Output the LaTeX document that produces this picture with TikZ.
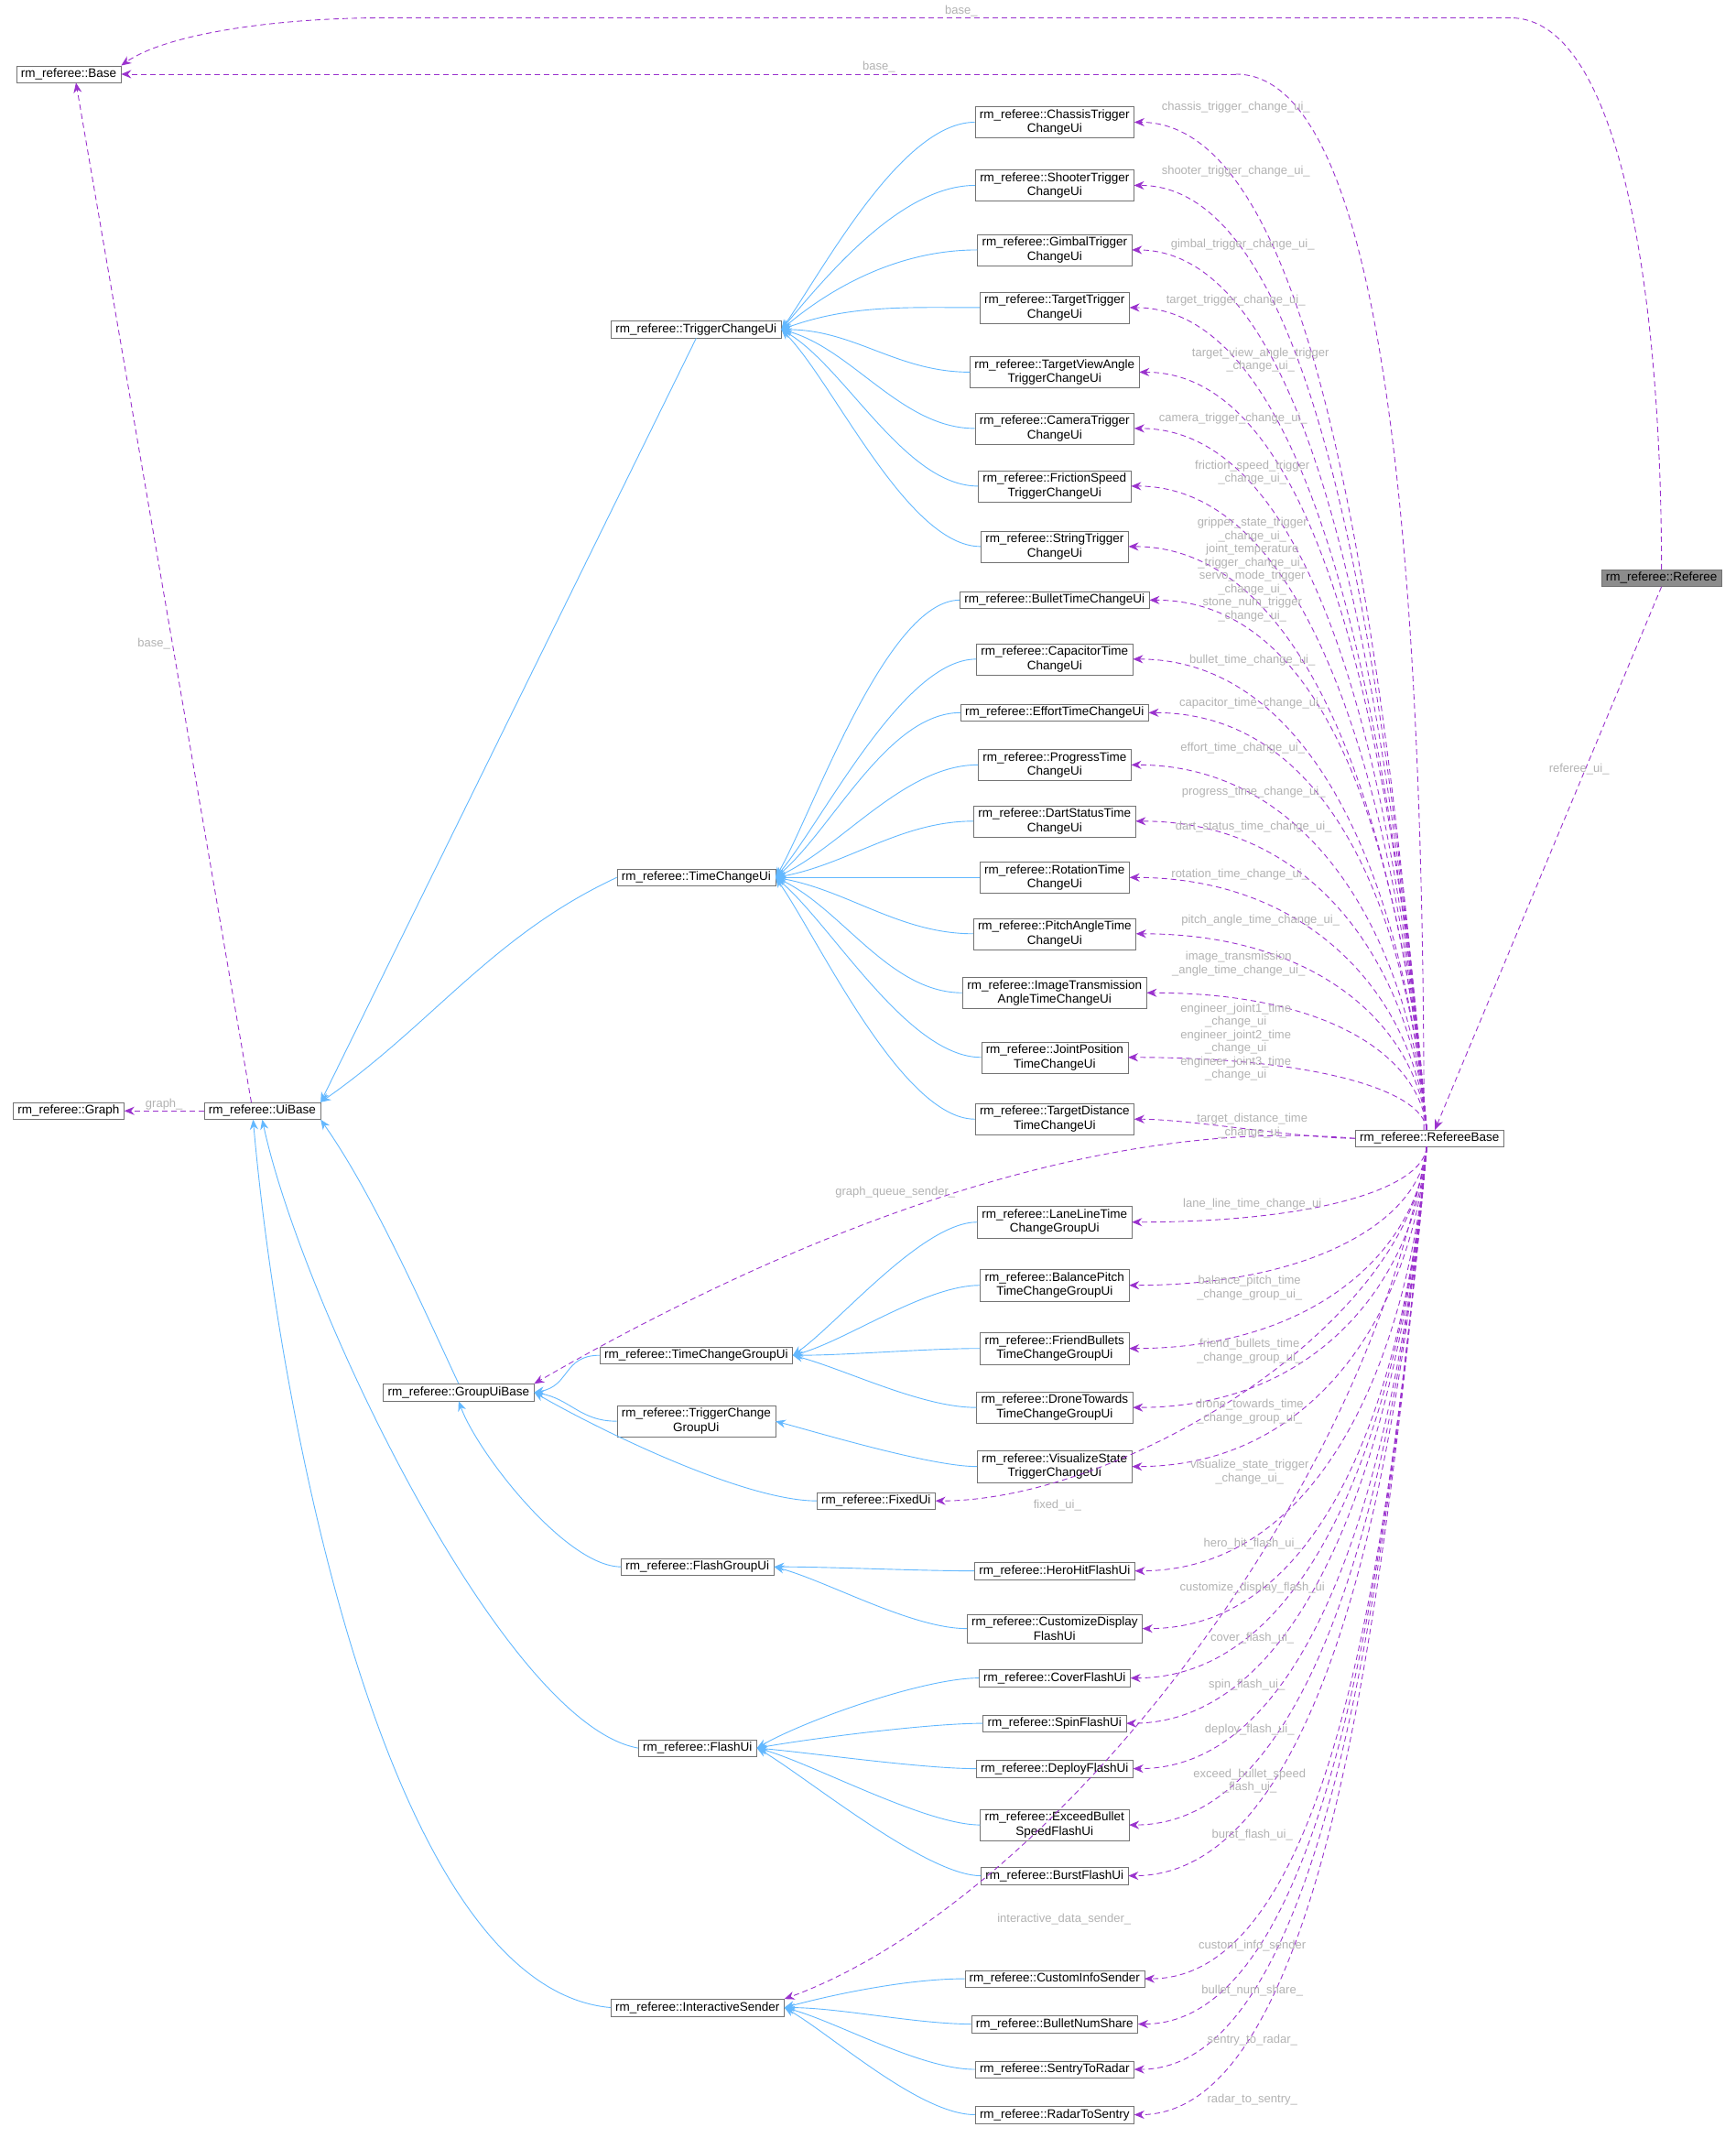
\documentclass[tikz,border=0pt]{standalone}
\usepackage{fontspec}
\setmainfont{Liberation Sans}
\usetikzlibrary{arrows.meta,positioning}
\definecolor{inhblue}{HTML}{63B8FF}
\definecolor{mempurple}{HTML}{9A32CD}
\tikzset{
    every picture/.style = {x = 1.5pt, y = -1.5pt},
    cls/.style = {
        draw = black!55,
        fill = white,
        inner xsep = 5pt,
        inner ysep = 3pt,
        align = center,
        font = \fontsize{13.5}{15.5}\selectfont
    },
    inh/.style = {
        draw = inhblue,
        line width = 0.9pt,
        -{Stealth[length = 11pt, width = 9pt, fill = inhblue]}
    },
    mem/.style = {
        draw = mempurple,
        line width = 0.9pt,
        dash pattern = on 6pt off 4pt,
        -{Stealth[length = 11pt, width = 9pt, fill = mempurple]}
    },
    lbl/.style = {
        text = black!30,
        align = center,
        inner sep = 0pt,
        font = \fontsize{13}{14.5}\selectfont
    }
}
\begin{document}
\begin{tikzpicture}
    \useasboundingbox (0,0) rectangle (1264,1565);

    % left column
    \node[cls] (base) at (50,54) {rm\_referee::Base};
    \node[cls] (graph) at (50,809) {rm\_referee::Graph};
    \node[cls] (ui) at (191,809) {rm\_referee::UiBase};

    % middle column
    \node[cls] (tcu) at (507,240) {rm\_referee::TriggerChangeUi};
    \node[cls] (tmc) at (507,639) {rm\_referee::TimeChangeUi};
    \node[cls] (gub) at (334,1014) {rm\_referee::GroupUiBase};
    \node[cls] (tmg) at (507,987) {rm\_referee::TimeChangeGroupUi};
    \node[cls] (tcg) at (507,1035) {rm\_referee::TriggerChange\\GroupUi};
    \node[cls] (fix) at (638,1093) {rm\_referee::FixedUi};
    \node[cls] (fgu) at (508,1141) {rm\_referee::FlashGroupUi};
    \node[cls] (fui) at (508,1273) {rm\_referee::FlashUi};
    \node[cls] (isd) at (508,1462) {rm\_referee::InteractiveSender};

    % members
    \foreach \n/\y/\t in {
        chassis/89/ChassisTrigger\\ChangeUi,
        shooter/135/ShooterTrigger\\ChangeUi,
        gimbal/182/GimbalTrigger\\ChangeUi,
        target/224/TargetTrigger\\ChangeUi,
        view/271/TargetViewAngle\\TriggerChangeUi,
        camera/312/CameraTrigger\\ChangeUi,
        friction/354/FrictionSpeed\\TriggerChangeUi,
        string/398/StringTrigger\\ChangeUi,
        bullet/437/BulletTimeChangeUi,
        capacitor/480/CapacitorTime\\ChangeUi,
        effort/519/EffortTimeChangeUi,
        progress/557/ProgressTime\\ChangeUi,
        dart/598/DartStatusTime\\ChangeUi,
        rotation/639/RotationTime\\ChangeUi,
        pitch/680/PitchAngleTime\\ChangeUi,
        image/723/ImageTransmission\\AngleTimeChangeUi,
        joint/770/JointPosition\\TimeChangeUi,
        tdist/815/TargetDistance\\TimeChangeUi,
        lane/890/LaneLineTime\\ChangeGroupUi,
        balance/936/BalancePitch\\TimeChangeGroupUi,
        friend/982/FriendBullets\\TimeChangeGroupUi,
        drone/1025/DroneTowards\\TimeChangeGroupUi,
        visual/1068/VisualizeState\\TriggerChangeUi,
        hero/1144/HeroHitFlashUi,
        custom/1186/CustomizeDisplay\\FlashUi,
        cover/1222/CoverFlashUi,
        spin/1255/SpinFlashUi,
        deploy/1288/DeployFlashUi,
        exceed/1329/ExceedBullet\\SpeedFlashUi,
        burst/1366/BurstFlashUi,
        cinfo/1441/CustomInfoSender,
        bnum/1474/BulletNumShare,
        sentry/1507/SentryToRadar,
        radar/1540/RadarToSentry}
        \node[cls] (\n) at (768,\y) {rm\_referee::\t};

    % right side
    \node[cls] (rb) at (1041,829) {rm\_referee::RefereeBase};
    \node[cls, fill = black!45] (ref) at (1210,421) {rm\_referee::Referee};

    % inheritance
    \foreach \n/\a in {chassis/55, shooter/50, gimbal/40, target/20, view/0,
        camera/-15, friction/-30, string/-45}
        \draw[inh] (\n.west) .. controls +(180:80pt) and +(\a:80pt) .. (tcu.east);
    \foreach \n/\a in {bullet/60, capacitor/50, effort/40, progress/25, dart/10,
        rotation/0, pitch/-10, image/-25, joint/-40, tdist/-55}
        \draw[inh] (\n.west) .. controls +(180:80pt) and +(\a:80pt) .. (tmc.east);
    \foreach \n/\a in {lane/35, balance/15, friend/0, drone/-15}
        \draw[inh] (\n.west) .. controls +(180:60pt) and +(\a:60pt) .. (tmg.east);
    \draw[inh] (visual.west) .. controls +(180:50pt) and +(-15:50pt) .. (tcg.east);
    \draw[inh] (tmg.west) .. controls +(180:40pt) and +(10:40pt) .. (gub.east);
    \draw[inh] (tcg.west) .. controls +(180:40pt) and +(-10:40pt) .. (gub.east);
    \draw[inh] (fix.west) .. controls +(180:80pt) and +(-30:80pt) .. (gub.east);
    \draw[inh] (fgu.west) .. controls +(180:60pt) and +(-70:60pt) .. (gub.south);
    \foreach \n/\a in {hero/0, custom/-15}
        \draw[inh] (\n.west) .. controls +(180:60pt) and +(\a:60pt) .. (fgu.east);
    \foreach \n/\a in {cover/30, spin/10, deploy/-5, exceed/-15, burst/-30}
        \draw[inh] (\n.west) .. controls +(180:60pt) and +(\a:60pt) .. (fui.east);
    \foreach \n/\a in {cinfo/15, bnum/0, sentry/-15, radar/-30}
        \draw[inh] (\n.west) .. controls +(180:60pt) and +(\a:60pt) .. (isd.east);
    \draw[inh] (tcu.south) -- (ui.north east);
    \draw[inh] (tmc.west) .. controls +(205:150pt) and +(35:150pt) .. (ui.north east);
    \draw[inh] (gub.north) .. controls +(115:100pt) and +(-55:100pt) .. (ui.south east);
    \draw[inh] (fui.west) .. controls +(170:150pt) and +(-78:200pt) .. (ui.south);
    \draw[inh] (isd.west) .. controls +(175:250pt) and +(-85:300pt) .. ([xshift=-10pt]ui.south);

    % members of UiBase
    \draw[mem] (ui.west) -- node[lbl, above = 1pt] {graph\_} (graph.east);
    \draw[mem] ([xshift=-12pt]ui.north) -- node[lbl, pos=0.45, left = 2pt] {base\_} ([xshift=8pt]base.south);

    % members of RefereeBase above it
    \foreach \n/\y in {chassis/89, shooter/135, gimbal/182, target/224, view/271,
        camera/312, friction/354, string/398, bullet/437, capacitor/480, effort/519,
        progress/557, dart/598, rotation/639, pitch/680, image/723, joint/770}{
        \pgfmathsetmacro\lena{(829-\y)*0.75}
        \draw[mem] ([xshift=-3pt]rb.north) .. controls +(95:\lena pt) and +(0:200pt) .. (\n.east);
    }
    \draw[mem] (rb.west) .. controls +(180:60pt) and +(0:60pt) .. (tdist.east);
    \draw[mem] (rb.west) .. controls +(175:300pt) and +(30:300pt) .. (gub.north east);
    % members of RefereeBase below it
    \foreach \n/\y in {lane/890, balance/936, friend/982, drone/1025, visual/1068,
        fix/1093, hero/1144, custom/1186, cover/1222, spin/1255, deploy/1288,
        exceed/1329, burst/1366, cinfo/1441, bnum/1474, sentry/1507, radar/1540}{
        \pgfmathsetmacro\lena{(\y-829)*0.75}
        \draw[mem] ([xshift=-3pt]rb.south) .. controls +(-95:\lena pt) and +(0:200pt) .. (\n.east);
    }
    \draw[mem] ([xshift=-3pt]rb.south) .. controls +(-100:400pt) and +(20:300pt) .. (isd.north east);

    % top connectors
    \coordinate (basebend) at (900,54);
    \coordinate (topbend) at (1100,13);
    \coordinate (topleft) at (280,13);
    \draw[mem, -] ([xshift=-6pt]rb.north) .. controls +(90:700pt) and +(0:150pt) .. (basebend);
    \draw[mem] (basebend) -- (base.east);
    \draw[mem, -] (ref.north) .. controls +(90:300pt) and +(0:120pt) .. (topbend);
    \draw[mem, -] (topbend) -- (topleft);
    \draw[mem] (topleft) .. controls +(180:120pt) and +(35:60pt) .. (base.north east);
    \draw[mem] (ref.south) -- ([xshift=6pt]rb.north);

    % labels
    \node[lbl] at (700,8) {base\_};
    \node[lbl] at (640,49) {base\_};
    \node[lbl] at (1150,560) {referee\_ui\_};
    \node[lbl] at (652,868) {graph\_queue\_sender\_};
    \node[lbl] at (775,1398) {interactive\_data\_sender\_};
    \foreach \x/\y/\t in {
        900/78/chassis\_trigger\_change\_ui\_,
        900/125/shooter\_trigger\_change\_ui\_,
        905/178/gimbal\_trigger\_change\_ui\_,
        900/219/target\_trigger\_change\_ui\_,
        918/262/target\_view\_angle\_trigger\\\_change\_ui\_,
        898/305/camera\_trigger\_change\_ui\_,
        912/344/friction\_speed\_trigger\\\_change\_ui\_,
        912/415/gripper\_state\_trigger\\\_change\_ui\_\\joint\_temperature\\\_trigger\_change\_ui\_\\servo\_mode\_trigger\\\_change\_ui\_\\stone\_num\_trigger\\\_change\_ui\_,
        912/481/bullet\_time\_change\_ui\_,
        912/512/capacitor\_time\_change\_ui\_,
        905/545/effort\_time\_change\_ui\_,
        913/577/progress\_time\_change\_ui\_,
        913/602/dart\_status\_time\_change\_ui\_,
        903/637/rotation\_time\_change\_ui\_,
        918/670/pitch\_angle\_time\_change\_ui\_,
        902/702/image\_transmission\\\_angle\_time\_change\_ui\_,
        900/759/engineer\_joint1\_time\\\_change\_ui\\engineer\_joint2\_time\\\_change\_ui\\engineer\_joint3\_time\\\_change\_ui,
        912/820/target\_distance\_time\\\_change\_ui\_,
        912/877/lane\_line\_time\_change\_ui,
        910/938/balance\_pitch\_time\\\_change\_group\_ui\_,
        910/984/friend\_bullets\_time\\\_change\_group\_ui\_,
        910/1028/drone\_towards\_time\\\_change\_group\_ui\_,
        910/1072/visualize\_state\_trigger\\\_change\_ui\_,
        770/1096/fixed\_ui\_,
        912/1124/hero\_hit\_flash\_ui\_,
        912/1156/customize\_display\_flash\_ui,
        912/1193/cover\_flash\_ui\_,
        908/1227/spin\_flash\_ui\_,
        910/1260/deploy\_flash\_ui\_,
        910/1297/exceed\_bullet\_speed\\\_flash\_ui\_,
        912/1336/burst\_flash\_ui\_,
        912/1417/custom\_info\_sender,
        912/1450/bullet\_num\_share\_,
        912/1486/sentry\_to\_radar\_,
        912/1529/radar\_to\_sentry\_}
        \node[lbl] at (\x,\y) {\t};
\end{tikzpicture}
\end{document}
